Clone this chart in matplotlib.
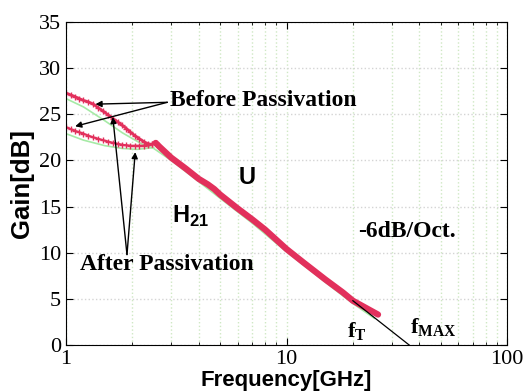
import numpy as np
import matplotlib.pyplot as plt

plt.rcParams['mathtext.fontset'] = 'custom'
plt.rcParams['mathtext.bf'] = 'Liberation Serif:bold'
plt.rcParams['mathtext.sf'] = 'Liberation Sans:bold'

# before passivation, U (red)
freq_u = [1.0, 1.05, 1.1, 1.15, 1.2, 1.26, 1.33, 1.4, 1.47, 1.55, 1.64, 1.72, 1.8, 1.88,
          1.95, 2.05, 2.15, 2.25, 2.35, 2.45, 2.55, 2.65, 3.0, 3.5, 4.0, 4.4, 4.7, 5.0, 6.0,
          7.0, 8.0, 10.0, 12.0, 15.0, 18.0, 20.0, 23.0, 26.0]
gain_u = [27.3, 27.1, 26.9, 26.7, 26.5, 26.35, 26.1, 25.7, 25.35, 24.95, 24.5, 24.15, 23.8, 23.45,
          23.1, 22.7, 22.35, 22.05, 21.8, 21.75, 21.9, 21.5, 20.3, 19.1, 18.0, 17.4, 16.9, 16.3, 14.8,
          13.6, 12.5, 10.4, 8.9, 7.1, 5.7, 4.8, 4.0, 3.3]
# before passivation, H21 (red), low-frequency part
freq_h = [1.0, 1.05, 1.1, 1.15, 1.2, 1.26, 1.33, 1.4, 1.47, 1.55, 1.64, 1.72, 1.8, 1.88,
          1.95, 2.05, 2.15, 2.25, 2.35, 2.45, 2.55]
gain_h = [23.6, 23.4, 23.2, 23.05, 22.9, 22.7, 22.5, 22.35, 22.2, 22.05, 21.9, 21.8, 21.7, 21.65,
          21.6, 21.6, 21.6, 21.6, 21.7, 21.8, 21.9]
# after passivation (green)
freq_ug = [1.0, 1.2, 1.5, 1.8, 2.2, 2.5, 3.0, 4.0, 5.0, 7.0, 10.0, 15.0, 20.0, 25.0]
gain_ug = [26.7, 25.8, 24.3, 23.0, 21.8, 21.3, 20.0, 17.7, 15.9, 13.2, 10.1, 6.8, 4.5, 2.9]
freq_hg = [1.0, 1.2, 1.5, 1.8, 2.1, 2.3, 2.5]
gain_hg = [22.9, 22.2, 21.6, 21.3, 21.2, 21.3, 21.4]
# -6dB/oct extrapolation
freq_ext = [20.0, 36.0]
gain_ext = [4.8, 0.0]

serif = 'Liberation Serif'
sans = 'Liberation Sans'
red = '#e2305c'
green = '#a6eaa6'

fig = plt.figure(figsize=(5.24, 3.91), dpi=100)
ax = fig.add_axes([0.126, 0.1176, 0.8416, 0.8261])
ax.set_xscale('log')
ax.set_xlim(1, 100)
ax.set_ylim(0, 35)

ax.grid(True, which='both', axis='x', color='#cfe8c4', linestyle=':', linewidth=1)
ax.grid(True, which='major', axis='y', color='#d4d4d4', linestyle=':', linewidth=1)

ax.plot(freq_ug, gain_ug, color=green, lw=1.2)
ax.plot(freq_hg, gain_hg, color=green, lw=1.2)
ax.plot(freq_u, gain_u, color=red, lw=2.0)
ax.plot(freq_u[20:], gain_u[20:], color=red, lw=4.5, solid_capstyle='round')
ax.plot(freq_u[:21], gain_u[:21], color=red, lw=0, marker='+', ms=4, mew=1)
ax.plot(freq_h, gain_h, color=red, lw=1.5, marker='+', ms=4, mew=1)
ax.plot(freq_ext, gain_ext, color='black', lw=0.9)

ax.set_xticks([1, 10, 100])
ax.set_xticklabels(['1', '10', '100'])
ax.set_yticks(range(0, 36, 5))
ax.tick_params(which='both', direction='in', top=True, right=True)
ax.tick_params(which='major', length=5, labelsize=16)
ax.tick_params(which='minor', length=2.5)
ax.tick_params(axis='y', which='minor', length=0)
for lab in ax.get_xticklabels() + ax.get_yticklabels():
    lab.set_fontfamily(serif)

ax.set_xlabel('Frequency[GHz]', fontfamily=sans, fontweight='bold', fontsize=16, va='baseline')
ax.xaxis.set_label_coords(0.5, -0.128)
ax.set_ylabel('Gain[dB]', fontfamily=sans, fontweight='bold', fontsize=18.5, va='center')
ax.yaxis.set_label_coords(-0.1, 0.5)

tb = dict(fontfamily=serif, fontweight='bold', fontsize=17)
ax.text(2.97, 26.5, 'Before Passivation', va='center', **tb)
ax.text(1.158, 8.7, 'After Passivation', va='center', **tb)
ax.text(21.2, 12.3, '-6dB/Oct.', va='center', **tb)
tf = dict(fontfamily=serif, fontweight='bold', fontsize=16)
ax.text(18.9, 0.87, r'f$_\mathbf{T}$', va='baseline', **tf)
ax.text(36.2, 1.3, r'f$_\mathbf{MAX}$', va='baseline', **tf)
tl = dict(fontfamily=sans, fontweight='bold', fontsize=17)
ax.text(6.05, 18.2, 'U', va='center', **tl)
ax.text(3.03, 13.9, r'H$_\mathsf{21}$', va='center', **tl)

arr = dict(arrowstyle='-|>', color='black', lw=1, mutation_scale=9, shrinkA=0, shrinkB=0)
ax.annotate('', xy=(1.36, 26.1), xytext=(2.88, 26.3), arrowprops=arr)
ax.annotate('', xy=(1.10, 23.7), xytext=(2.88, 26.3), arrowprops=arr)
ax.annotate('', xy=(1.63, 24.7), xytext=(1.89, 9.8), arrowprops=arr)
ax.annotate('', xy=(2.06, 20.9), xytext=(1.89, 9.8), arrowprops=arr)

fig.savefig('out.png', dpi=100)
